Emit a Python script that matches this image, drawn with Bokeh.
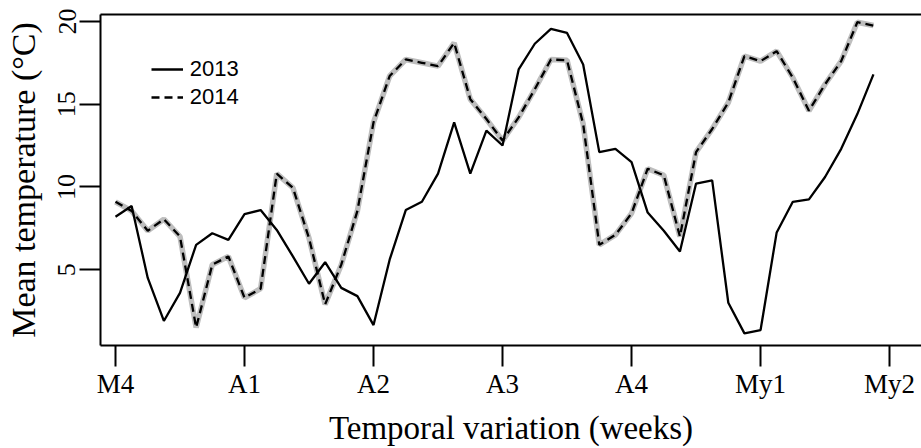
import math
from bokeh.plotting import figure
from bokeh.models import (Range1d, FixedTicker, LinearAxis, Legend, LegendItem,
                          ColumnDataSource)
from bokeh.embed import file_html
from bokeh.resources import INLINE

# ---- data -------------------------------------------------------------
obs = list(range(48))  # sampling index (8 samples per labelled week)
temp_2013 = [8.2, 8.85, 4.5, 1.9, 3.6, 6.5, 7.2, 6.8,
             8.35, 8.6, 7.4, 5.8, 4.15, 5.45, 3.9, 3.4,
             1.65, 5.6, 8.6, 9.1, 10.8, 13.9, 10.8, 13.4,
             12.5, 17.1, 18.65, 19.55, 19.3, 17.4, 12.1, 12.3,
             11.5, 8.45, 7.35, 6.1, 10.2, 10.4, 3.0, 1.15,
             1.35, 7.25, 9.1, 9.25, 10.6, 12.3, 14.4, 16.8]
temp_2014 = [9.1, 8.55, 7.35, 8.05, 7.0, 1.5, 5.3, 5.8,
             3.3, 3.85, 10.8, 9.95, 6.9, 2.9, 5.3, 8.55,
             13.9, 16.7, 17.7, 17.5, 17.3, 18.7, 15.3, 14.1,
             12.8, 14.2, 15.9, 17.7, 17.65, 13.8, 6.5, 7.1,
             8.4, 11.1, 10.7, 7.0, 12.1, 13.5, 15.1, 17.9,
             17.6, 18.2, 16.6, 14.6, 16.2, 17.6, 19.95, 19.75]
week_ticks = [0, 8, 16, 24, 32, 40, 48]
week_labels = ["M4", "A1", "A2", "A3", "A4", "My1", "My2"]
y_ticks = [5, 10, 15, 20]

SERIF = "Liberation Serif"
SANS = "Liberation Sans"

src = ColumnDataSource(dict(x=obs, y13=temp_2013, y14=temp_2014))

p = figure(width=921, height=448, output_backend="svg", toolbar_location=None,
           x_range=Range1d(-0.93, 49.98), y_range=Range1d(0.417, 20.417),
           x_axis_location=None, y_axis_location=None,
           min_border_left=100, min_border_right=0, min_border_top=14,
           min_border_bottom=98)
p.outline_line_color = None
p.xgrid.visible = False
p.ygrid.visible = False
p.background_fill_color = "white"
p.border_fill_color = "white"

# lines
p.line("x", "y14", source=src, line_color="#bebebe", line_width=5.5)
r14 = p.line("x", "y14", source=src, line_color="black", line_width=2.3,
             line_dash="8 5")
r13 = p.line("x", "y13", source=src, line_color="black", line_width=2.3)

# axes
def style(ax):
    ax.axis_line_color = "black"
    ax.axis_line_width = 2
    ax.major_tick_line_width = 2
    ax.major_tick_out = 21
    ax.major_tick_in = 0
    ax.minor_tick_line_color = None
    ax.major_label_text_font = SERIF
    ax.major_label_text_color = "black"
    ax.axis_label_text_font = SERIF
    ax.axis_label_text_font_style = "normal"
    ax.axis_label_text_color = "black"

xa = LinearAxis(ticker=FixedTicker(ticks=week_ticks),
                major_label_overrides={t: l for t, l in zip(week_ticks, week_labels)},
                axis_label="Temporal variation (weeks)")
style(xa)
xa.major_label_text_font_size = "27px"
xa.major_label_standoff = 2
xa.axis_label_text_font_size = "33px"
xa.axis_label_standoff = 8
p.add_layout(xa, "below")

ya = LinearAxis(ticker=FixedTicker(ticks=y_ticks), axis_label="Mean temperature (°C)")
style(ya)
ya.major_label_text_font_size = "26px"
ya.major_label_orientation = "vertical"
ya.major_label_standoff = 4
ya.axis_label_text_font_size = "34px"
ya.axis_label_standoff = 14
p.add_layout(ya, "left")

top = LinearAxis(ticker=FixedTicker(ticks=[]), major_label_text_font_size="0px")
top.axis_line_color = "black"
top.axis_line_width = 2
top.major_tick_line_color = None
top.minor_tick_line_color = None
p.add_layout(top, "above")

legend = Legend(items=[LegendItem(label="2013", renderers=[r13]),
                       LegendItem(label="2014", renderers=[r14])],
                location=(50.7, 233.7), orientation="vertical",
                border_line_color=None, background_fill_alpha=0,
                label_text_font=SANS, label_text_font_size="22px",
                label_text_color="black",
                glyph_width=32, glyph_height=28, label_height=28,
                label_standoff=7, spacing=0, padding=5, margin=0)
p.add_layout(legend, "center")

open("out.html", "w").write(file_html(p, INLINE))
